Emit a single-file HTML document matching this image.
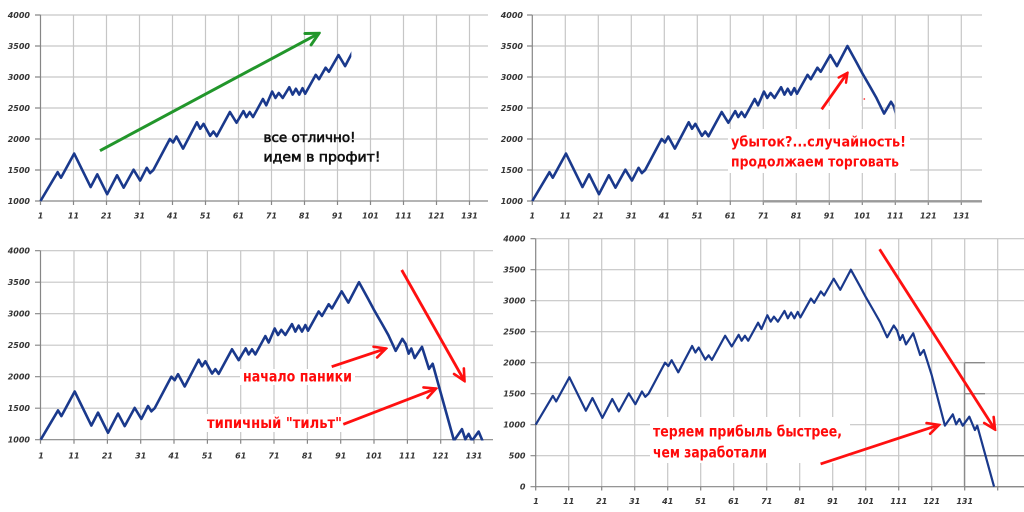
<!DOCTYPE html>
<html>
<head>
<meta charset="utf-8">
<style>
html,body{margin:0;padding:0;background:#fff;width:1024px;height:512px;overflow:hidden}
svg{display:block}
.g{fill:none;stroke:#c6c6c6;stroke-width:1.2}
.ax{fill:none;stroke:#868686;stroke-width:1.2}
.t{font-family:"DejaVu Sans","Liberation Sans",sans-serif;font-size:8px;font-weight:bold;font-style:italic;fill:#353535}
.s{fill:none;stroke:#1a398c;stroke-width:2.6;stroke-linejoin:round;stroke-linecap:butt}
.bk{font-family:"DejaVu Sans","Liberation Sans",sans-serif;font-size:13px;fill:#111;stroke:#111;stroke-width:0.6}
.rd{font-family:"DejaVu Sans","Liberation Sans",sans-serif;font-weight:bold;fill:#ff0a0a}
</style>
</head>
<body>
<svg width="1024" height="512" viewBox="0 0 1024 512" xmlns="http://www.w3.org/2000/svg">
<defs>
<marker id="mg" viewBox="0 0 16 16" refX="14" refY="8" markerWidth="16" markerHeight="16" markerUnits="userSpaceOnUse" orient="auto"><path d="M1.5,1.5 L14,8 L1.5,14.5" fill="none" stroke="#22962b" stroke-width="3" stroke-linecap="round" stroke-linejoin="miter"/></marker>
<marker id="mr" viewBox="0 0 16 16" refX="14" refY="8" markerWidth="15" markerHeight="15" markerUnits="userSpaceOnUse" orient="auto"><path d="M2,2 L14,8 L2,14" fill="none" stroke="#ff1010" stroke-width="2.8" stroke-linecap="round"/></marker>
<marker id="ms" viewBox="0 0 16 16" refX="14" refY="8" markerWidth="12" markerHeight="12" markerUnits="userSpaceOnUse" orient="auto"><path d="M2,2 L14,8 L2,14" fill="none" stroke="#ff1010" stroke-width="3.2" stroke-linecap="round"/></marker>
<clipPath id="c1" clipPathUnits="userSpaceOnUse"><rect x="0" y="985" width="95.2" height="3200"/></clipPath>
<clipPath id="c2" clipPathUnits="userSpaceOnUse"><rect x="0" y="985" width="110.8" height="3200"/></clipPath>
<clipPath id="c3" clipPathUnits="userSpaceOnUse"><rect x="0" y="988" width="133.9" height="3200"/></clipPath>
<clipPath id="c4" clipPathUnits="userSpaceOnUse"><rect x="0" y="-25" width="141" height="4200"/></clipPath>
</defs>
<rect width="1024" height="512" fill="#fff"/>

<!-- ============ PANEL 1 ============ -->
<path class="g" d="M40,15H488M40,46H488M40,77H488M40,108H488M40,139H488M40,170H488
M73.5,15V201M106.5,15V201M139.5,15V201M172.5,15V201M205.5,15V201M238.5,15V201M271.5,15V201M304.5,15V201M337.5,15V201M370.5,15V201M403.5,15V201M436.5,15V201M469.5,15V201"/>
<path class="ax" d="M40.5,15V201M40,201H488
M35,15H40.5M35,46H40.5M35,77H40.5M35,108H40.5M35,139H40.5M35,170H40.5M35,201H40.5
M40.5,201V205M73.5,201V205M106.5,201V205M139.5,201V205M172.5,201V205M205.5,201V205M238.5,201V205M271.5,201V205M304.5,201V205M337.5,201V205M370.5,201V205M403.5,201V205M436.5,201V205M469.5,201V205"/>
<g class="t" text-anchor="end">
<text x="30" y="18">4000</text><text x="30" y="49">3500</text><text x="30" y="80">3000</text><text x="30" y="111">2500</text><text x="30" y="142">2000</text><text x="30" y="173">1500</text><text x="30" y="204">1000</text>
</g>
<g class="t" text-anchor="middle">
<text x="40.5" y="218.5">1</text><text x="73.5" y="218.5">11</text><text x="106.5" y="218.5">21</text><text x="139.5" y="218.5">31</text><text x="172.5" y="218.5">41</text><text x="205.5" y="218.5">51</text><text x="238.5" y="218.5">61</text><text x="271.5" y="218.5">71</text><text x="304.5" y="218.5">81</text><text x="337.5" y="218.5">91</text><text x="370.5" y="218.5">101</text><text x="403.5" y="218.5">111</text><text x="436.5" y="218.5">121</text><text x="469.5" y="218.5">131</text>
</g>
<g transform="translate(37.2,263) scale(3.3,-0.062)">
<polyline class="s" vector-effect="non-scaling-stroke" clip-path="url(#c1)" points="1,1000 6.2,1465 7.2,1375 11.2,1765 16.2,1225 18.2,1430 21.2,1110 24.2,1415 26.2,1215 29.2,1505 31.2,1330 33.2,1535 34.2,1450 35.2,1500 40.2,2000 41.2,1945 42.2,2040 44.2,1845 48.4,2270 49.4,2165 50.4,2245 52.4,2050 53.4,2120 54.4,2045 58.4,2435 60.4,2262 62.5,2450 63.4,2354 64.4,2435 65.4,2354 68.4,2645 69.4,2543 71.2,2765 72.2,2662 73.2,2743 74.4,2662 76.4,2835 77.4,2716 78.4,2810 79.4,2716 80.4,2820 81.2,2730 84.4,3035 85.4,2965 87.4,3150 88.4,3084 91.3,3354 93.3,3176 96.5,3500 99.3,3230 101,3060 103.5,2830 105.3,2661 107.5,2410 109.5,2600 110.5,2520 111.4,2366 112.2,2447 113.2,2296 115.4,2474 117.5,2124 118.6,2205 125,985 127.4,1167 128.4,1006 129.4,1092 130.4,984 132.4,1129 134.1,914 134.8,984 139.9,0"/>
</g>
<line x1="100" y1="150.7" x2="319" y2="33.3" stroke="#22962b" stroke-width="3" marker-end="url(#mg)"/>
<text class="bk" x="263.5" y="142" textLength="92" lengthAdjust="spacingAndGlyphs">все отлично!</text>
<text class="bk" x="263.5" y="161.5" textLength="117" lengthAdjust="spacingAndGlyphs">идем в профит!</text>

<!-- ============ PANEL 2 ============ -->
<path class="g" d="M532.3,15H982M532.3,46H982M532.3,77H982M532.3,108H982M532.3,139H982M532.3,170H982
M565.3,15V201M598.3,15V201M631.3,15V201M664.3,15V201M697.3,15V201M730.3,15V201M763.3,15V201M796.3,15V201M829.3,15V201M862.3,15V201M895.3,15V201M928.3,15V201M961.3,15V201"/>
<path class="ax" d="M532.3,15V201M532,201H982
M527,15H532.3M527,46H532.3M527,77H532.3M527,108H532.3M527,139H532.3M527,170H532.3M527,201H532.3
M532.3,201V205M565.3,201V205M598.3,201V205M631.3,201V205M664.3,201V205M697.3,201V205M730.3,201V205M763.3,201V205M796.3,201V205M829.3,201V205M862.3,201V205M895.3,201V205M928.3,201V205M961.3,201V205"/>
<line x1="763" y1="201.3" x2="982" y2="201.3" stroke="#9a9a9a" stroke-width="2.4"/>
<g class="t" text-anchor="end">
<text x="523" y="18">4000</text><text x="523" y="49">3500</text><text x="523" y="80">3000</text><text x="523" y="111">2500</text><text x="523" y="142">2000</text><text x="523" y="173">1500</text><text x="523" y="204">1000</text>
</g>
<g class="t" text-anchor="middle">
<text x="532.3" y="218.5">1</text><text x="565.3" y="218.5">11</text><text x="598.3" y="218.5">21</text><text x="631.3" y="218.5">31</text><text x="664.3" y="218.5">41</text><text x="697.3" y="218.5">51</text><text x="730.3" y="218.5">61</text><text x="763.3" y="218.5">71</text><text x="796.3" y="218.5">81</text><text x="829.3" y="218.5">91</text><text x="862.3" y="218.5">101</text><text x="895.3" y="218.5">111</text><text x="928.3" y="218.5">121</text><text x="961.3" y="218.5">131</text>
</g>
<rect x="728" y="129" width="182" height="44" fill="#fff"/>
<rect x="822" y="106" width="40" height="4" fill="#fff"/>
<g transform="translate(529,263) scale(3.3,-0.062)">
<polyline class="s" vector-effect="non-scaling-stroke" clip-path="url(#c2)" points="1,1000 6.2,1465 7.2,1375 11.2,1765 16.2,1225 18.2,1430 21.2,1110 24.2,1415 26.2,1215 29.2,1505 31.2,1330 33.2,1535 34.2,1450 35.2,1500 40.2,2000 41.2,1945 42.2,2040 44.2,1845 48.4,2270 49.4,2165 50.4,2245 52.4,2050 53.4,2120 54.4,2045 58.4,2435 60.4,2262 62.5,2450 63.4,2354 64.4,2435 65.4,2354 68.4,2645 69.4,2543 71.2,2765 72.2,2662 73.2,2743 74.4,2662 76.4,2835 77.4,2716 78.4,2810 79.4,2716 80.4,2820 81.2,2730 84.4,3035 85.4,2965 87.4,3150 88.4,3084 91.3,3354 93.3,3176 96.5,3500 99.3,3230 101,3060 103.5,2830 105.3,2661 107.6,2410 109.7,2600 110.6,2520 111.4,2366 112.2,2447 113.2,2296 115.4,2474 117.5,2124 118.6,2205 125,985 127.4,1167 128.4,1006 129.4,1092 130.4,984 132.4,1129 134.1,914 134.8,984 139.9,0"/>
</g>
<line x1="821.7" y1="109.3" x2="847.5" y2="72.8" stroke="#ff1010" stroke-width="2.8" marker-end="url(#ms)"/>
<circle cx="864.3" cy="99" r="0.9" fill="#ff3030"/>
<text class="rd" x="731" y="146.5" font-size="14" textLength="175" lengthAdjust="spacingAndGlyphs">убыток?...случайность!</text>
<text class="rd" x="731" y="166.5" font-size="14" textLength="168" lengthAdjust="spacingAndGlyphs">продолжаем торговать</text>

<!-- ============ PANEL 3 ============ -->
<path class="g" d="M40,250.7H493M40,282.2H493M40,313.7H493M40,345.2H493M40,376.7H493M40,408.2H493
M74,250.7V439.7M107.4,250.7V439.7M140.7,250.7V439.7M174,250.7V439.7M207.4,250.7V439.7M240.7,250.7V439.7M274,250.7V439.7M307.4,250.7V439.7M340.7,250.7V439.7M374,250.7V439.7M407.4,250.7V439.7M440.7,250.7V439.7M474,250.7V439.7"/>
<path class="ax" d="M40.5,250.7V439.7M40,439.7H493
M35,250.7H40.5M35,282.2H40.5M35,313.7H40.5M35,345.2H40.5M35,376.7H40.5M35,408.2H40.5M35,439.7H40.5
M40.5,439.7V443.7M74,439.7V443.7M107.4,439.7V443.7M140.7,439.7V443.7M174,439.7V443.7M207.4,439.7V443.7M240.7,439.7V443.7M274,439.7V443.7M307.4,439.7V443.7M340.7,439.7V443.7M374,439.7V443.7M407.4,439.7V443.7M440.7,439.7V443.7M474,439.7V443.7"/>
<g class="t" text-anchor="end">
<text x="30" y="253.7">4000</text><text x="30" y="285.2">3500</text><text x="30" y="316.7">3000</text><text x="30" y="348.2">2500</text><text x="30" y="379.7">2000</text><text x="30" y="411.2">1500</text><text x="30" y="442.7">1000</text>
</g>
<g class="t" text-anchor="middle">
<text x="41" y="458.5">1</text><text x="74" y="458.5">11</text><text x="107.4" y="458.5">21</text><text x="140.7" y="458.5">31</text><text x="174" y="458.5">41</text><text x="207.4" y="458.5">51</text><text x="240.7" y="458.5">61</text><text x="274" y="458.5">71</text><text x="307.4" y="458.5">81</text><text x="340.7" y="458.5">91</text><text x="374" y="458.5">101</text><text x="407.4" y="458.5">111</text><text x="440.7" y="458.5">121</text><text x="474" y="458.5">131</text>
</g>
<rect x="240" y="369" width="115" height="16" fill="#fff"/>
<rect x="204" y="414" width="141" height="18" fill="#fff"/>
<g transform="translate(37.37,502.7) scale(3.333,-0.063)">
<polyline class="s" vector-effect="non-scaling-stroke" clip-path="url(#c3)" points="1,1000 6.2,1465 7.2,1375 11.2,1765 16.2,1225 18.2,1430 21.2,1110 24.2,1415 26.2,1215 29.2,1505 31.2,1330 33.2,1535 34.2,1450 35.2,1500 40.2,2000 41.2,1945 42.2,2040 44.2,1845 48.4,2270 49.4,2165 50.4,2245 52.4,2050 53.4,2120 54.4,2045 58.4,2435 60.4,2262 62.5,2450 63.4,2354 64.4,2435 65.4,2354 68.4,2645 69.4,2543 71.2,2765 72.2,2662 73.2,2743 74.4,2662 76.4,2835 77.4,2716 78.4,2810 79.4,2716 80.4,2820 81.2,2730 84.4,3035 85.4,2965 87.4,3150 88.4,3084 91.3,3354 93.3,3176 96.5,3500 99.3,3230 101,3060 103.5,2830 105.3,2661 107.5,2410 109.5,2600 110.5,2520 111.4,2366 112.2,2447 113.2,2296 115.4,2474 117.5,2124 118.6,2205 125,985 127.4,1167 128.4,1006 129.4,1092 130.4,984 132.4,1129 134.1,914 134.8,984 139.9,0"/>
</g>
<line x1="401.7" y1="270" x2="464.5" y2="381" stroke="#ff1010" stroke-width="2.8" marker-end="url(#mr)"/>
<line x1="331.7" y1="366.7" x2="386" y2="348.5" stroke="#ff1010" stroke-width="2.8" marker-end="url(#mr)"/>
<line x1="343.3" y1="424.3" x2="436" y2="388.6" stroke="#ff1010" stroke-width="2.8" marker-end="url(#mr)"/>
<text class="rd" x="243" y="381.5" font-size="15" textLength="109" lengthAdjust="spacingAndGlyphs">начало паники</text>
<text class="rd" x="207" y="428" font-size="15" textLength="135" lengthAdjust="spacingAndGlyphs">типичный "тильт"</text>

<!-- ============ PANEL 4 ============ -->
<path class="g" d="M535.7,238.7H1024M535.7,269.7H1024M535.7,300.7H1024M535.7,331.7H1024M535.7,362.7H1024M535.7,393.7H1024M535.7,424.7H1024M535.7,455.7H1024
M568.7,238.7V486.7M601.7,238.7V486.7M634.7,238.7V486.7M667.7,238.7V486.7M700.7,238.7V486.7M733.7,238.7V486.7M766.7,238.7V486.7M799.7,238.7V486.7M832.7,238.7V486.7M865.7,238.7V486.7M898.7,238.7V486.7M931.7,238.7V486.7M964.7,238.7V486.7M997.7,238.7V486.7"/>
<path class="ax" d="M535.7,238.7V486.7M535.5,486.7H1024
M530.5,238.7H535.7M530.5,269.7H535.7M530.5,300.7H535.7M530.5,331.7H535.7M530.5,362.7H535.7M530.5,393.7H535.7M530.5,424.7H535.7M530.5,455.7H535.7M530.5,486.7H535.7
M535.7,486.7V490.5M568.7,486.7V490.5M601.7,486.7V490.5M634.7,486.7V490.5M667.7,486.7V490.5M700.7,486.7V490.5M733.7,486.7V490.5M766.7,486.7V490.5M799.7,486.7V490.5M832.7,486.7V490.5M865.7,486.7V490.5M898.7,486.7V490.5M931.7,486.7V490.5M964.7,486.7V490.5M997.7,486.7V490.5"/>
<path d="M964.5,362.7V486.7M964.5,362.7H985M964.5,393.7H985M964.5,455.7H1024M964.5,486.7H1024" fill="none" stroke="#8a8a8a" stroke-width="1.4"/>
<g class="t" text-anchor="end">
<text x="525.5" y="241.7">4000</text><text x="525.5" y="272.7">3500</text><text x="525.5" y="303.7">3000</text><text x="525.5" y="334.7">2500</text><text x="525.5" y="365.7">2000</text><text x="525.5" y="396.7">1500</text><text x="525.5" y="427.7">1000</text><text x="525.5" y="458.7">500</text><text x="525.5" y="489.7">0</text>
</g>
<g class="t" text-anchor="middle">
<text x="536" y="504">1</text><text x="568.7" y="504">11</text><text x="601.7" y="504">21</text><text x="634.7" y="504">31</text><text x="667.7" y="504">41</text><text x="700.7" y="504">51</text><text x="733.7" y="504">61</text><text x="766.7" y="504">71</text><text x="799.7" y="504">81</text><text x="832.7" y="504">91</text><text x="865.7" y="504">101</text><text x="898.7" y="504">111</text><text x="931.7" y="504">121</text><text x="964.7" y="504">131</text>
</g>
<rect x="650" y="417" width="200" height="46" fill="#fff"/>
<g transform="translate(532.4,486.7) scale(3.3,-0.062)">
<polyline class="s" style="stroke-width:2.2" vector-effect="non-scaling-stroke" clip-path="url(#c4)" points="1,1000 6.2,1465 7.2,1375 11.2,1765 16.2,1225 18.2,1430 21.2,1110 24.2,1415 26.2,1215 29.2,1505 31.2,1330 33.2,1535 34.2,1450 35.2,1500 40.2,2000 41.2,1945 42.2,2040 44.2,1845 48.4,2270 49.4,2165 50.4,2245 52.4,2050 53.4,2120 54.4,2045 58.4,2435 60.4,2262 62.5,2450 63.4,2354 64.4,2435 65.4,2354 68.4,2645 69.4,2543 71.2,2765 72.2,2662 73.2,2743 74.4,2662 76.4,2835 77.4,2716 78.4,2810 79.4,2716 80.4,2820 81.2,2730 84.4,3035 85.4,2965 87.4,3150 88.4,3084 91.3,3354 93.3,3176 96.5,3500 99.3,3230 101,3060 103.5,2830 105.3,2661 107.5,2410 109.5,2600 110.5,2520 111.4,2366 112.2,2447 113.2,2296 115.4,2474 117.5,2124 118.6,2205 121,1800 125,985 127.4,1167 128.4,1006 129.4,1092 130.4,984 132.4,1129 134.1,914 134.8,984 139.9,0"/>
</g>
<line x1="879.6" y1="249.3" x2="995" y2="429.5" stroke="#ff1010" stroke-width="2.8" marker-end="url(#mr)"/>
<line x1="820.6" y1="463.9" x2="939" y2="424.9" stroke="#ff1010" stroke-width="2.8" marker-end="url(#mr)"/>
<text class="rd" x="653" y="436.5" font-size="15" textLength="189" lengthAdjust="spacingAndGlyphs">теряем прибыль быстрее,</text>
<text class="rd" x="653" y="457.5" font-size="15" textLength="114" lengthAdjust="spacingAndGlyphs">чем заработали</text>
</svg>
</body>
</html>
